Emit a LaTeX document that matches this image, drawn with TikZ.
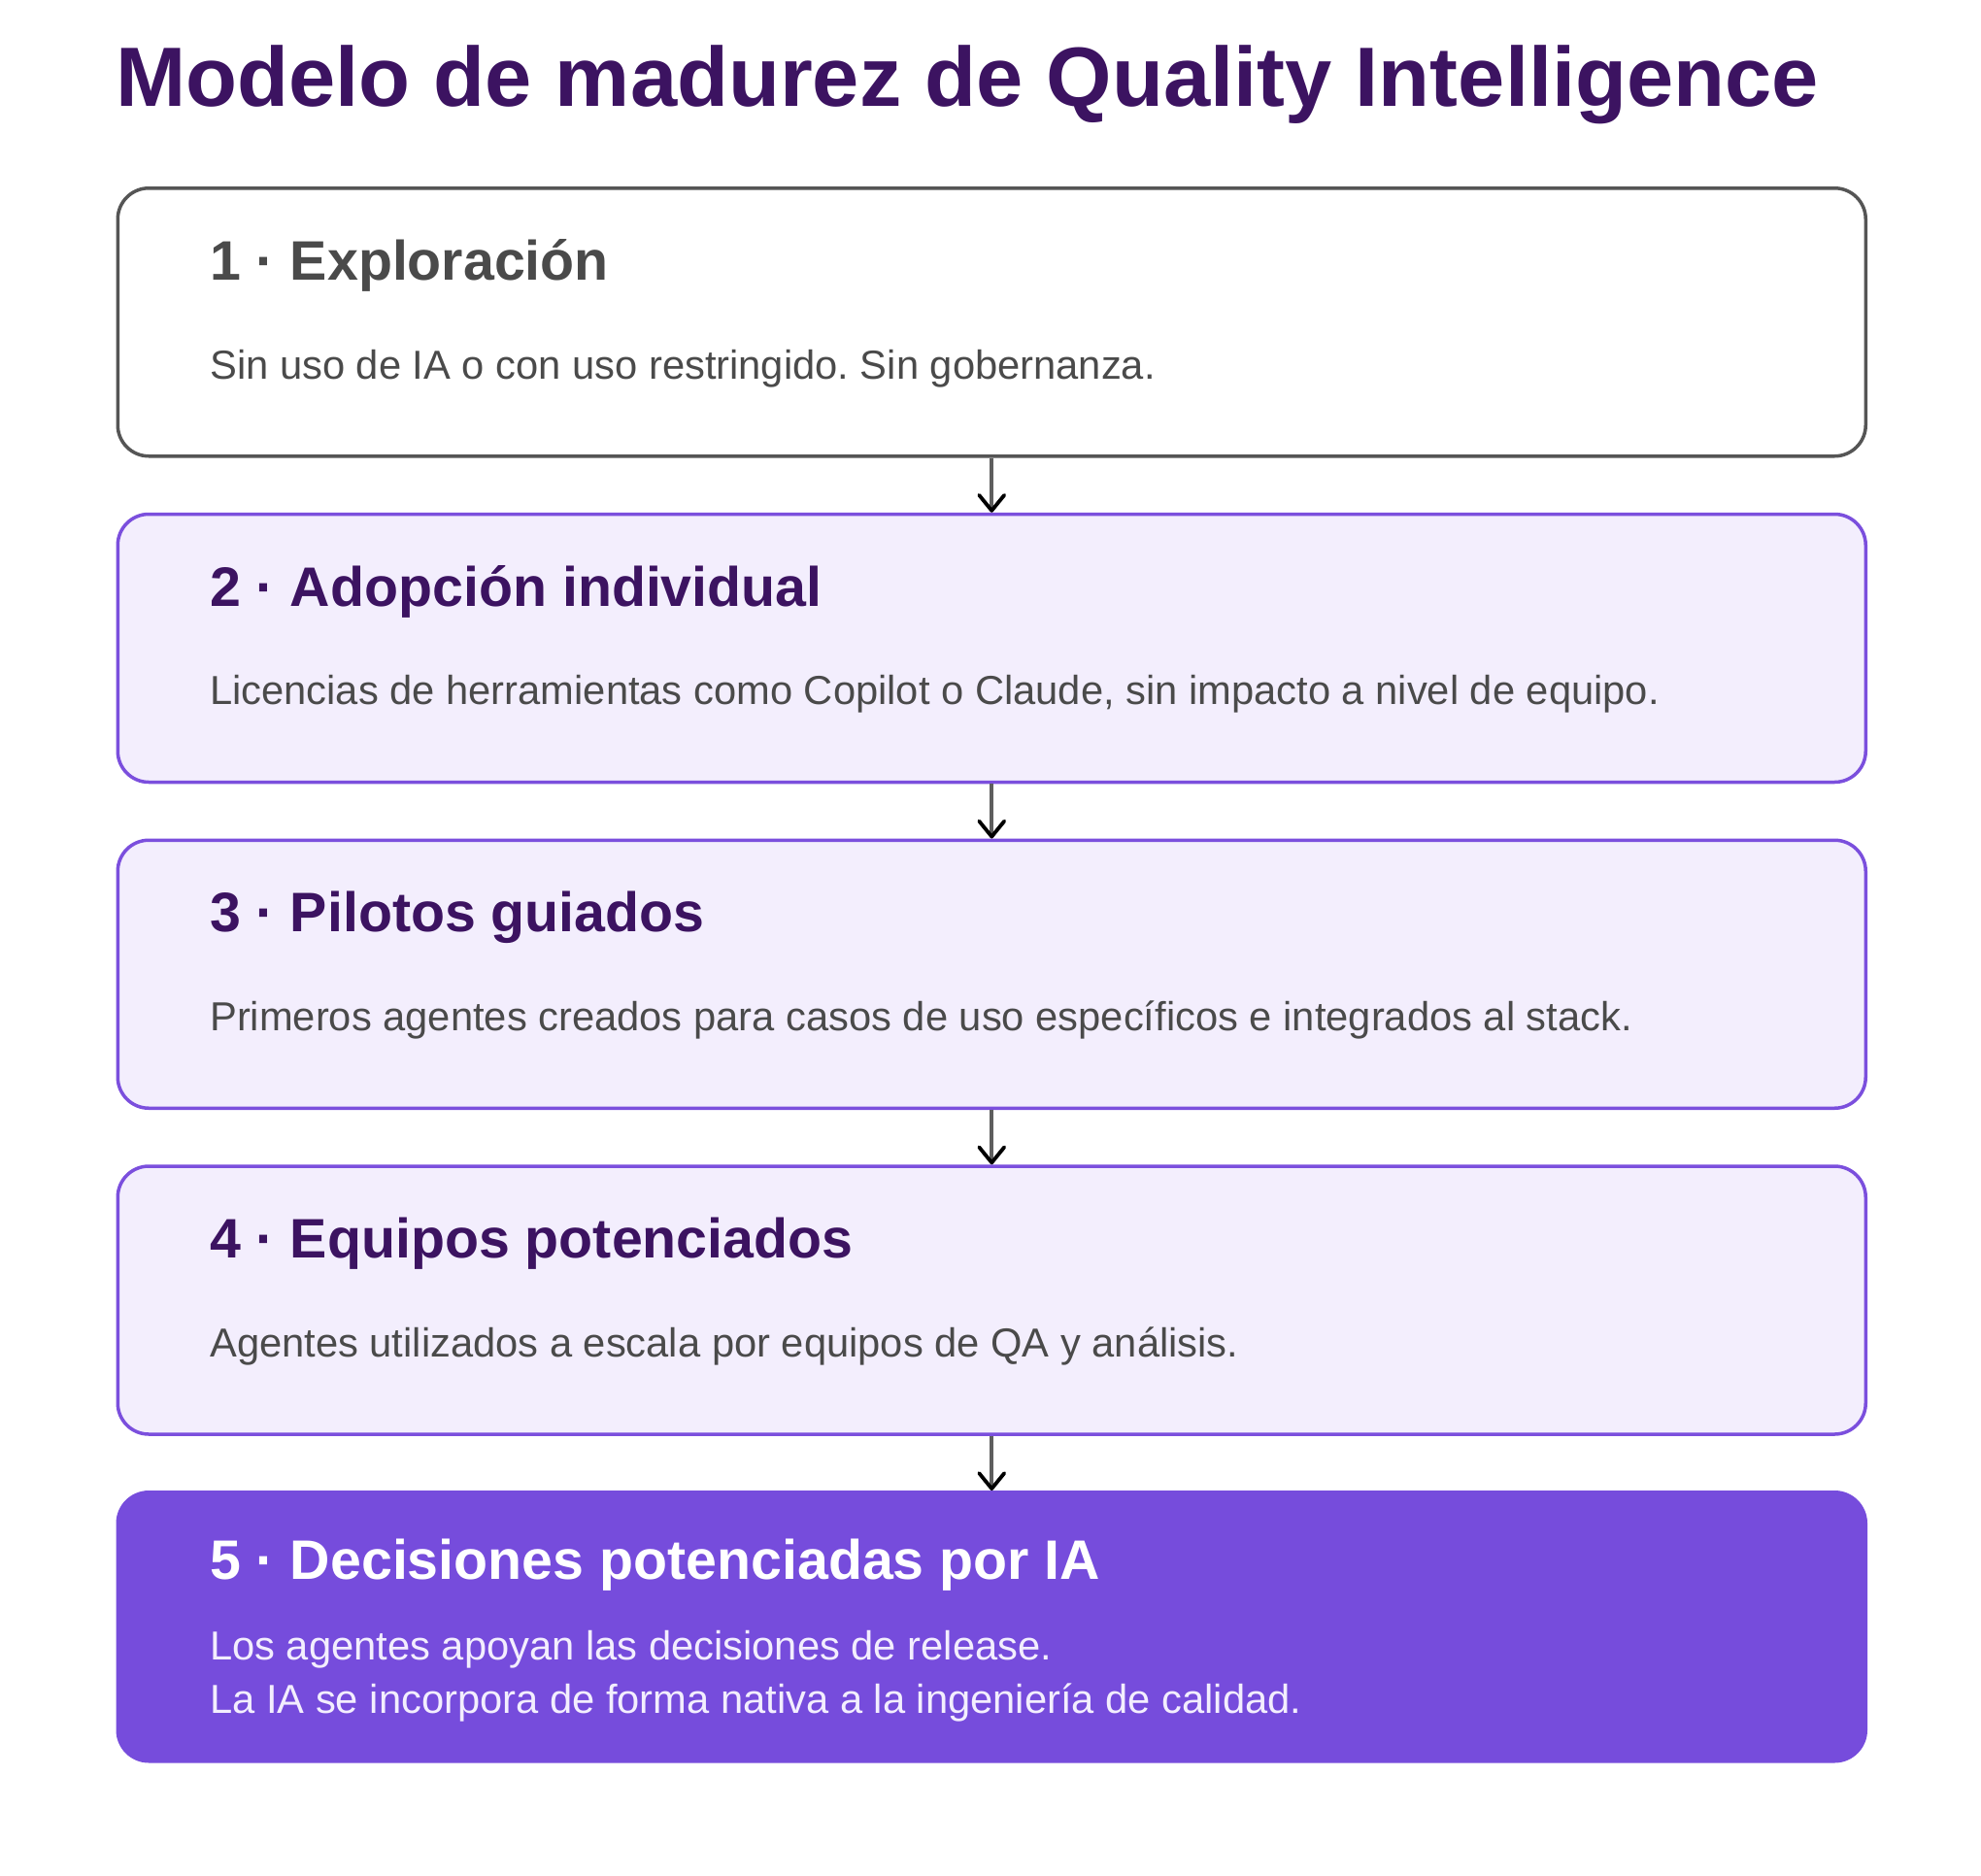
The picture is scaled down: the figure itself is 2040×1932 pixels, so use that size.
\documentclass[tikz,border=0pt]{standalone}
\usepackage{fontspec}
\setmainfont{Liberation Sans}
\usetikzlibrary{arrows.meta}
\frenchspacing
\definecolor{titlec}{HTML}{3C1361}
\definecolor{greyline}{HTML}{555555}
\definecolor{greytext}{HTML}{4A4A4A}
\definecolor{purpline}{HTML}{7B4FDD}
\definecolor{lavfill}{HTML}{F3EEFD}
\definecolor{darkfill}{HTML}{764CDC}
\definecolor{paletext}{HTML}{F3EEFE}
\definecolor{shaftc}{HTML}{5E5E5E}
\tikzset{
  stagebox/.style={rectangle, rounded corners=32pt, line width=3.5pt,
    minimum width=1800pt, minimum height=276pt, anchor=north west, inner sep=0pt},
  greybox/.style={stagebox, draw=greyline, fill=white},
  lavbox/.style={stagebox, draw=purpline, fill=lavfill},
  topbox/.style={stagebox, draw=darkfill, fill=darkfill, minimum height=277pt},
  headtxt/.style={anchor=base west, inner sep=0pt, font=\fontsize{57.3}{68}\selectfont\bfseries},
  bodytxt/.style={anchor=base west, inner sep=0pt, font=\fontsize{41.7}{54.7}\selectfont},
  titletxt/.style={anchor=base west, inner sep=0pt, font=\fontsize{86.7}{100}\selectfont\bfseries, text=titlec},
  conn/.style={draw=shaftc, line width=3.8pt,
    -{Straight Barb[length=16pt, width=26pt, line width=3.8pt, color=black, round]}},
}
\begin{document}
\begin{tikzpicture}[x=1pt,y=-1pt]
\useasboundingbox (0,0) rectangle (2040,1932);
\node[titletxt] (title) at (119,109.3) {Modelo de madurez de Quality Intelligence};

\node[greybox] (b1) at (119.5,192) {};
\node[lavbox] (b2) at (119.5,527.75) {};
\node[lavbox] (b3) at (119.5,863.5) {};
\node[lavbox] (b4) at (119.5,1199.25) {};
\node[topbox] (b5) at (119.5,1535) {};

\node[headtxt, text=greytext] (h1) at (216,288.3) {1 · Exploración};
\node[bodytxt, text=greytext] (t1) at (216,390) {Sin uso de IA o con uso restringido. Sin gobernanza.};

\node[headtxt, text=titlec] (h2) at (216,624.05) {2 · Adopción individual};
\node[bodytxt, text=greytext] (t2) at (216,725.75) {Licencias de herramientas como Copilot o Claude, sin impacto a nivel de equipo.};

\node[headtxt, text=titlec] (h3) at (216,959.8) {3 · Pilotos guiados};
\node[bodytxt, text=greytext] (t3) at (216,1061.5) {Primeros agentes creados para casos de uso específicos e integrados al stack.};

\node[headtxt, text=titlec] (h4) at (216,1295.55) {4 · Equipos potenciados};
\node[bodytxt, text=greytext] (t4) at (216,1397.25) {Agentes utilizados a escala por equipos de QA y análisis.};

\node[headtxt, text=white] (h5) at (216,1626.7) {5 · Decisiones potenciadas por IA};
\node[bodytxt, text=paletext] (t5a) at (216,1709.3) {Los agentes apoyan las decisiones de release.};
\node[bodytxt, text=paletext] (t5b) at (216,1764) {La IA se incorpora de forma nativa a la ingeniería de calidad.};

\draw[conn] (b1.south) -- (b2.north);
\draw[conn] (b2.south) -- (b3.north);
\draw[conn] (b3.south) -- (b4.north);
\draw[conn] (b4.south) -- (b5.north);
\end{tikzpicture}
\end{document}
